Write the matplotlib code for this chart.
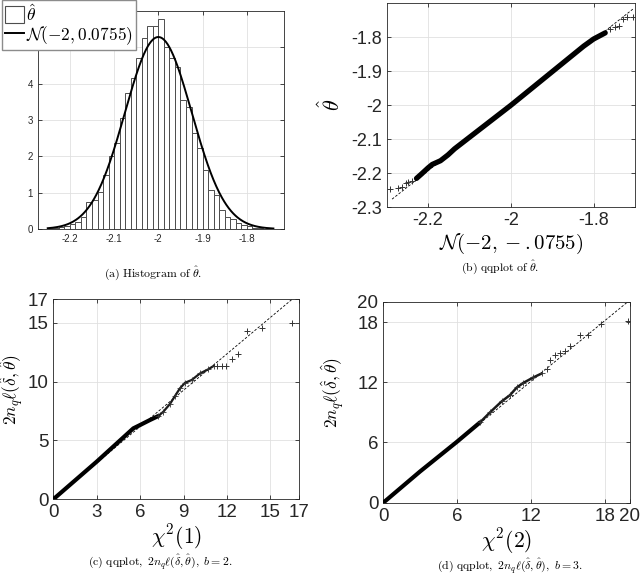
# -*- coding: utf-8 -*-

import numpy as np
import matplotlib
matplotlib.use("Agg")
import matplotlib.pyplot as plt
from matplotlib.patches import Patch
from matplotlib.lines import Line2D

plt.rcParams["font.family"] = ["Liberation Sans", "DejaVu Sans"]
plt.rcParams["mathtext.fontset"] = "cm"

# (a) ヒストグラム
bin_start = -2.25
bin_width = 0.0125
hist_heights = [0.02, 0.04, 0.06, 0.09, 0.13, 0.20, 0.34, 0.73, 0.80, 1.03,
                1.49, 2.00, 2.38, 3.06, 3.73, 4.16, 4.71, 5.27, 5.59, 5.59,
                5.77, 5.02, 4.71, 4.47, 3.55, 3.36, 2.64, 2.23, 1.63, 1.08,
                0.94, 0.52, 0.34, 0.27, 0.16, 0.11, 0.07, 0.04, 0.02, 0.01]
norm_mu = -2.0
norm_sigma = 0.0755
a_xticks = [-2.2, -2.1, -2.0, -1.9, -1.8]
a_xlabels = ["-2.2", "-2.1", "-2", "-1.9", "-1.8"]
a_yticks = [0, 1, 2, 3, 4, 5]

# (b) qqplot of theta
b_band_x = [-2.228, -2.216, -2.200, -2.190, -2.170, -2.152, -2.136, -2.000, -1.824, -1.800, -1.772]
b_band_y = [-2.215, -2.202, -2.184, -2.174, -2.163, -2.146, -2.128, -2.000, -1.826, -1.805, -1.787]
b_tail_x = [-2.292, -2.272, -2.264, -2.254, -2.248, -2.240, -1.760, -1.748, -1.738, -1.729, -1.719, -1.706]
b_tail_y = [-2.2475, -2.243, -2.240, -2.228, -2.227, -2.222, -1.775, -1.769, -1.766, -1.746, -1.741, -1.739]
b_ref_x = [-2.287, -1.704]
b_ref_y = [-2.276, -1.716]
b_xticks = [-2.2, -2.0, -1.8]
b_xlabels = ["-2.2", "-2", "-1.8"]
b_yticks = [-2.3, -2.2, -2.1, -2.0, -1.9, -1.8]
b_ylabels = ["-2.3", "-2.2", "-2.1", "-2", "-1.9", "-1.8"]

# (c) qqplot, b=2
c_band_x = [0, 3.0, 5.53, 5.99, 6.68, 7.26]
c_band_y = [0, 3.2, 6.03, 6.31, 6.74, 7.08]
c_mid_x = [7.26, 7.6, 8.06, 8.41, 8.75, 9.1, 9.56, 10.14, 10.71, 11.1]
c_mid_y = [7.08, 7.44, 8.1, 8.78, 9.43, 9.9, 10.14, 10.7, 11.05, 11.35]
c_tail_x = [11.33, 11.63, 11.94, 12.33, 12.79, 13.41, 14.40, 16.47]
c_tail_y = [11.35, 11.35, 11.35, 11.89, 12.32, 14.30, 14.53, 14.95]
c_ref_x = [0, 16.5]
c_ref_y = [0, 17.0]
c_xticks = [0, 3, 6, 9, 12, 15, 17]
c_yticks = [0, 5, 10, 15, 17]

# (d) qqplot, b=3
d_band_x = [0, 2.97, 5.95, 7.84]
d_band_y = [0, 3.1, 6.05, 8.0]
d_mid_x = [7.84, 8.65, 9.6, 10.27, 10.82, 11.35, 12.16, 12.84]
d_mid_y = [8.0, 9.0, 10.1, 10.72, 11.48, 11.94, 12.48, 12.88]
d_tail_x = [13.3, 13.51, 13.92, 14.33, 14.73, 15.14, 15.95, 16.63, 17.63, 19.87]
d_tail_y = [13.37, 14.27, 14.70, 14.87, 15.12, 15.59, 16.69, 16.69, 17.78, 18.11]
d_ref_x = [0, 19.8]
d_ref_y = [0, 20.0]
d_xticks = [0, 6, 12, 18, 20]
d_yticks = [0, 6, 12, 18, 20]

W, H = 640, 578
AX_COLOR = "0.15"


def px_axes(fig, left, top, right, bottom):
    """ピクセル座標でAxesを配置"""
    return fig.add_axes([left / W, 1 - bottom / H, (right - left) / W, (bottom - top) / H])


def matlab_style(ax, size):
    """MATLAB風の見た目"""
    for s in ax.spines.values():
        s.set_color(AX_COLOR)
        s.set_linewidth(0.6)
    ax.tick_params(direction="in", length=3, width=0.6, colors=AX_COLOR,
                   labelsize=size, top=True, right=True, labeltop=False, labelright=False)
    ax.grid(True, color="0.88", linewidth=0.6)
    ax.set_axisbelow(True)


def qq(ax, band_x, band_y, mid_x, mid_y, tail_x, tail_y, ref_x, ref_y, lw_band, lw_mid):
    ax.plot(ref_x, ref_y, linestyle=(0, (3, 2)), color="k", linewidth=0.6, zorder=2)
    ax.plot(band_x, band_y, color="k", linewidth=lw_band, solid_capstyle="round", zorder=3)
    if mid_x:
        ax.plot(mid_x, mid_y, color="0.1", linewidth=lw_mid, solid_capstyle="round", zorder=3)
        ax.plot(mid_x, mid_y, "+", color="0.2", markersize=5, markeredgewidth=0.6, zorder=3)
    ax.plot(tail_x, tail_y, "+", color="0.2", markersize=5, markeredgewidth=0.7, zorder=3)


def main():
    fig = plt.figure(figsize=(W / 100, H / 100), dpi=100)

    # (a)
    ax = px_axes(fig, 38, 11, 284, 229)
    matlab_style(ax, 7)
    edges = bin_start + bin_width * np.arange(len(hist_heights))
    ax.bar(edges, hist_heights, width=bin_width, align="edge",
           color="white", edgecolor="0.3", linewidth=0.7, zorder=2)
    xs = np.linspace(-2.25, -1.74, 400)
    pdf = np.exp(-0.5 * ((xs - norm_mu) / norm_sigma) ** 2) / (norm_sigma * np.sqrt(2 * np.pi))
    ax.plot(xs, pdf, color="k", linewidth=1.4, zorder=3)
    ax.set_xlim(-2.272, -1.716)
    ax.set_ylim(0, 6)
    ax.set_xticks(a_xticks)
    ax.set_xticklabels(a_xlabels)
    ax.set_yticks(a_yticks)
    fig.text(153 / W, 1 - 273 / H, r"$\mathrm{(a)\ Histogram\ of\ }\hat{\theta}\mathrm{.}$",
             ha="center", va="center", fontsize=8.5)

    # 凡例
    handles = [Patch(facecolor="white", edgecolor="0.3", linewidth=0.8),
               Line2D([], [], color="k", linewidth=1.4)]
    fig.legend(handles, [r"$\hat{\theta}$", r"$\mathcal{N}(-2,0.0755)$"],
               loc="upper left", bbox_to_anchor=(2 / W, 1.0), bbox_transform=fig.transFigure,
               fontsize=12.5, frameon=True, fancybox=False, framealpha=1, edgecolor="0.55",
               borderpad=0.15, borderaxespad=0, handlelength=1.1, handleheight=1.1,
               handletextpad=0.15, labelspacing=0.05)

    # (b)
    ax = px_axes(fig, 386.7, 3.3, 635, 207.3)
    matlab_style(ax, 13)
    qq(ax, b_band_x, b_band_y, [], [], b_tail_x, b_tail_y, b_ref_x, b_ref_y, 3.8, 0)
    ax.set_xlim(-2.3, -1.7)
    ax.set_ylim(-2.3, -1.7)
    ax.set_xticks(b_xticks)
    ax.set_xticklabels(b_xlabels)
    ax.set_yticks(b_yticks)
    ax.set_yticklabels(b_ylabels)
    ax.set_xlabel(r"$\mathcal{N}(-2,-.0755)$", fontsize=15, labelpad=2)
    ax.set_ylabel(r"$\hat{\theta}$", fontsize=16, labelpad=4)
    fig.text(500 / W, 1 - 267 / H, r"$\mathrm{(b)\ qqplot\ of\ }\hat{\theta}\mathrm{.}$",
             ha="center", va="center", fontsize=8.5)

    # (c)
    ax = px_axes(fig, 53.3, 299.3, 299.3, 499.3)
    matlab_style(ax, 13.5)
    qq(ax, c_band_x, c_band_y, c_mid_x, c_mid_y, c_tail_x, c_tail_y, c_ref_x, c_ref_y, 3.0, 1.6)
    ax.set_xlim(0, 17)
    ax.set_ylim(0, 17)
    ax.set_xticks(c_xticks)
    ax.set_yticks(c_yticks)
    ax.set_xlabel(r"$\chi^2(1)$", fontsize=15.5, labelpad=1)
    ax.set_ylabel(r"$2n_q\ell(\hat{\delta},\hat{\theta})$", fontsize=12.5)
    ax.yaxis.set_label_coords((26 - 53.3) / 246, 0.55)
    fig.text(160 / W, 1 - 562 / H,
             r"$\mathrm{(c)\ qqplot,\ }2n_q\ell(\hat{\mathbf{\delta}},\hat{\mathbf{\theta}}),\ b=2.$",
             ha="center", va="center", fontsize=8.5)

    # (d)
    ax = px_axes(fig, 383.3, 302, 630, 502.7)
    matlab_style(ax, 13.5)
    qq(ax, d_band_x, d_band_y, d_mid_x, d_mid_y, d_tail_x, d_tail_y, d_ref_x, d_ref_y, 3.0, 1.8)
    ax.set_xlim(0, 20)
    ax.set_ylim(0, 20)
    ax.set_xticks(d_xticks)
    ax.set_yticks(d_yticks)
    ax.set_xlabel(r"$\chi^2(2)$", fontsize=15.5, labelpad=1)
    ax.set_ylabel(r"$2n_q\ell(\hat{\delta},\hat{\theta})$", fontsize=12.5)
    ax.yaxis.set_label_coords((347 - 383.3) / 246.7, 0.55)
    fig.text(510 / W, 1 - 566 / H,
             r"$\mathrm{(d)\ qqplot,\ }2n_q\ell(\hat{\mathbf{\delta}},\hat{\mathbf{\theta}}),\ b=3.$",
             ha="center", va="center", fontsize=8.5)

    fig.savefig("out.png", dpi=100)


if __name__ == '__main__':
    main()
